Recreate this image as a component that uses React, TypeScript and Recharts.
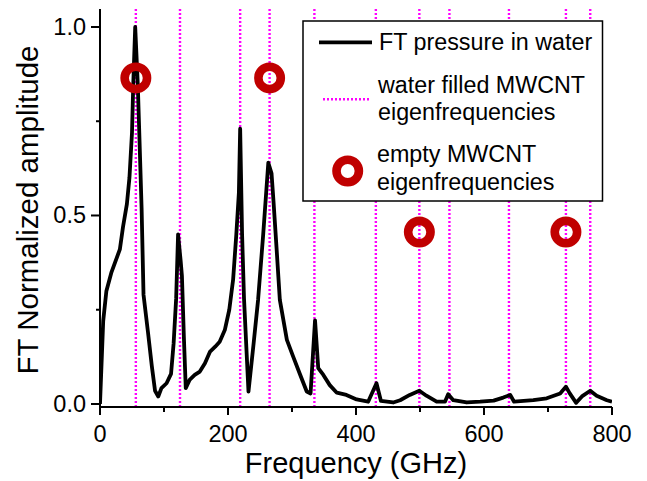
import {
  ComposedChart,
  Line,
  Scatter,
  XAxis,
  YAxis,
  ReferenceLine,
  Legend,
} from "recharts";

// FT pressure spectrum (GHz, normalized amplitude)
const freq = [
  0, 5, 10, 18, 31, 36, 42, 46, 50, 52, 55, 59, 63, 65, 68, 75, 81, 86, 91, 96,
  104, 111, 115, 119, 122, 126, 128, 131, 134, 140, 148, 156, 164, 172, 180, 187,
  195, 202, 208, 213, 217, 219, 222, 225, 232, 240, 247, 255, 263, 268, 271, 276,
  281, 292, 302, 312, 323, 329, 336, 341, 349, 359, 370, 385, 401, 419, 432, 439,
  458, 469, 484, 499, 510, 526, 539, 544, 552, 573, 594, 615, 630, 641, 647, 677,
  698, 719, 728, 734, 744, 753, 766, 776, 792, 800,
];
const amplitude = [
  0, 0.22, 0.3, 0.35, 0.41, 0.47, 0.53, 0.6, 0.72, 0.85, 1.0, 0.85, 0.63, 0.52, 0.29, 0.19,
  0.1, 0.035, 0.02, 0.042, 0.055, 0.08, 0.16, 0.28, 0.45, 0.38, 0.34, 0.18, 0.042, 0.064,
  0.077, 0.086, 0.108, 0.139, 0.152, 0.165, 0.196, 0.25, 0.33, 0.45, 0.56, 0.73, 0.45, 0.28,
  0.033, 0.16, 0.276, 0.45, 0.64, 0.612, 0.54, 0.41, 0.276, 0.17, 0.125, 0.081, 0.033, 0.028,
  0.222, 0.095, 0.077, 0.05, 0.03, 0.024, 0.012, 0.006, 0.055, 0.008, 0.004, 0.01, 0.024,
  0.035, 0.022, 0.006, 0.006, 0.026, 0.01, 0.004, 0.006, 0.009, 0.017, 0.024, 0.006, 0.01,
  0.015, 0.028, 0.046, 0.028, 0.003, 0.02, 0.035, 0.022, 0.01, 0.006,
];

// water filled MWCNT eigenfrequencies (GHz)
const waterFilled = [56, 125, 219, 265, 335, 431, 499, 546, 639, 728, 766];

// empty MWCNT eigenfrequencies (GHz) and marker heights
const emptyFreq = [56, 265, 499, 728];
const emptyLevel = [0.865, 0.865, 0.456, 0.456];

const xTicks = [0, 100, 200, 300, 400, 500, 600, 700, 800];
const yTicks = [0, 0.25, 0.5, 0.75, 1.0];

const spectrum = freq.map((f, i) => ({ f, a: amplitude[i] }));
const empty = emptyFreq.map((f, i) => ({ f, a: emptyLevel[i] }));

const FONT = "'Liberation Sans', Arial, Helvetica, sans-serif";
const RED = "#c00000";
const MAGENTA = "#ff00ff";

const BottomTick = (props: any) => {
  const { x, y, payload } = props;
  const major = payload.value % 200 === 0;
  return (
    <g>
      <line x1={x} x2={x} y1={y} y2={y + (major ? 8 : 5)} stroke="#000" strokeWidth={2} />
      {major && (
        <text x={x} y={y + 35} textAnchor="middle" fontSize={23.5} fill="#000" fontFamily={FONT}>
          {payload.value}
        </text>
      )}
    </g>
  );
};

const LeftTick = (props: any) => {
  const { x, y, payload } = props;
  const major = Math.abs(payload.value * 2 - Math.round(payload.value * 2)) < 1e-6;
  return (
    <g>
      <line x1={x - (major ? 9 : 4)} x2={x} y1={y} y2={y} stroke="#000" strokeWidth={2} />
      {major && (
        <text x={x - 14} y={y + 8} textAnchor="end" fontSize={23.5} fill="#000" fontFamily={FONT}>
          {payload.value.toFixed(1)}
        </text>
      )}
    </g>
  );
};

const TopTick = (props: any) => {
  const { x, y } = props;
  return <line x1={x} x2={x} y1={y} y2={y - 3} stroke="#000" strokeWidth={2} />;
};

const RightTick = (props: any) => {
  const { x, y } = props;
  return <line x1={x} x2={x + 3} y1={y} y2={y} stroke="#000" strokeWidth={2} />;
};

const XTitle = (props: any) => {
  const vb = props.viewBox || {};
  return (
    <text
      x={vb.x + vb.width / 2}
      y={vb.y + 66}
      textAnchor="middle"
      fontSize={29}
      fill="#000"
      fontFamily={FONT}
    >
      Frequency (GHz)
    </text>
  );
};

const YTitle = (props: any) => {
  const vb = props.viewBox || {};
  const cx = vb.x + 38;
  const cy = vb.y + vb.height / 2 + 2;
  return (
    <text
      x={cx}
      y={cy}
      transform={`rotate(-90 ${cx} ${cy})`}
      textAnchor="middle"
      fontSize={29.5}
      fill="#000"
      fontFamily={FONT}
    >
      FT Normalized amplitude
    </text>
  );
};

const Ring = (props: any) => {
  const { cx, cy } = props;
  return <circle cx={cx} cy={cy} r={11.2} fill="none" stroke={RED} strokeWidth={8.6} />;
};

const LegendBox = () => (
  <svg width={303} height={183} style={{ display: "block", fontFamily: FONT }}>
    <rect x={1} y={1} width={299.5} height={180} fill="#fff" stroke="#000" strokeWidth={1.5} />
    <line x1={17} x2={70} y1={22.3} y2={22.3} stroke="#000" strokeWidth={3.8} />
    <text x={77} y={30} fontSize={23.3} fill="#000">FT pressure in water</text>
    <line x1={21} x2={67} y1={79.3} y2={79.3} stroke={MAGENTA} strokeWidth={2.4} strokeDasharray="2 2" />
    <text x={76} y={72.7} fontSize={23.3} fill="#000">water filled MWCNT</text>
    <text x={76} y={100} fontSize={23.3} fill="#000">eigenfrequencies</text>
    <circle cx={45.7} cy={151} r={11.2} fill="none" stroke={RED} strokeWidth={8.6} />
    <text x={75} y={141.7} fontSize={23.3} fill="#000">empty MWCNT</text>
    <text x={75} y={170} fontSize={23.3} fill="#000">eigenfrequencies</text>
  </svg>
);

export default function App() {
  return (
    <div style={{ position: "absolute", left: 0, top: 0, fontFamily: FONT, background: "#fff" }}>
      <ComposedChart
        width={647}
        height={481}
        margin={{ top: 9, right: 35, bottom: 0, left: 0 }}
      >
        <XAxis
          dataKey="f"
          type="number"
          domain={[0, 800]}
          ticks={xTicks}
          interval={0}
          allowDataOverflow
          height={74}
          tickSize={0}
          tickMargin={0}
          tickLine={false}
          tick={<BottomTick />}
          axisLine={{ stroke: "#000", strokeWidth: 2 }}
          label={<XTitle />}
        />
        <XAxis
          xAxisId="top"
          orientation="top"
          type="number"
          domain={[0, 800]}
          ticks={xTicks}
          interval={0}
          height={0}
          tickSize={0}
          tickMargin={0}
          tickLine={false}
          tick={<TopTick />}
          axisLine={{ stroke: "#000", strokeWidth: 2 }}
        />
        <YAxis
          dataKey="a"
          type="number"
          domain={[-0.008, 1.0477]}
          ticks={yTicks}
          interval={0}
          allowDataOverflow
          width={100}
          tickSize={0}
          tickMargin={0}
          tickLine={false}
          tick={<LeftTick />}
          axisLine={{ stroke: "#000", strokeWidth: 2 }}
          label={<YTitle />}
        />
        <YAxis
          yAxisId="right"
          orientation="right"
          type="number"
          domain={[-0.008, 1.0477]}
          ticks={yTicks}
          interval={0}
          width={0}
          tickSize={0}
          tickMargin={0}
          tickLine={false}
          tick={<RightTick />}
          axisLine={{ stroke: "#000", strokeWidth: 2 }}
        />
        {waterFilled.map((f) => (
          <ReferenceLine
            key={f}
            x={f}
            stroke={MAGENTA}
            strokeWidth={2.4}
            strokeDasharray="2 2"
          />
        ))}
        <Line
          data={spectrum}
          dataKey="a"
          type="linear"
          stroke="#000"
          strokeWidth={3.8}
          dot={false}
          activeDot={false}
          strokeLinejoin="round"
          isAnimationActive={false}
        />
        <Scatter
          data={empty}
          dataKey="a"
          shape={<Ring />}
          isAnimationActive={false}
        />
        <Legend
          layout="horizontal"
          verticalAlign="middle"
          align="center"
          wrapperStyle={{ top: 20, left: 302, width: 303, height: 183 }}
          content={() => <LegendBox />}
        />
      </ComposedChart>
    </div>
  );
}
